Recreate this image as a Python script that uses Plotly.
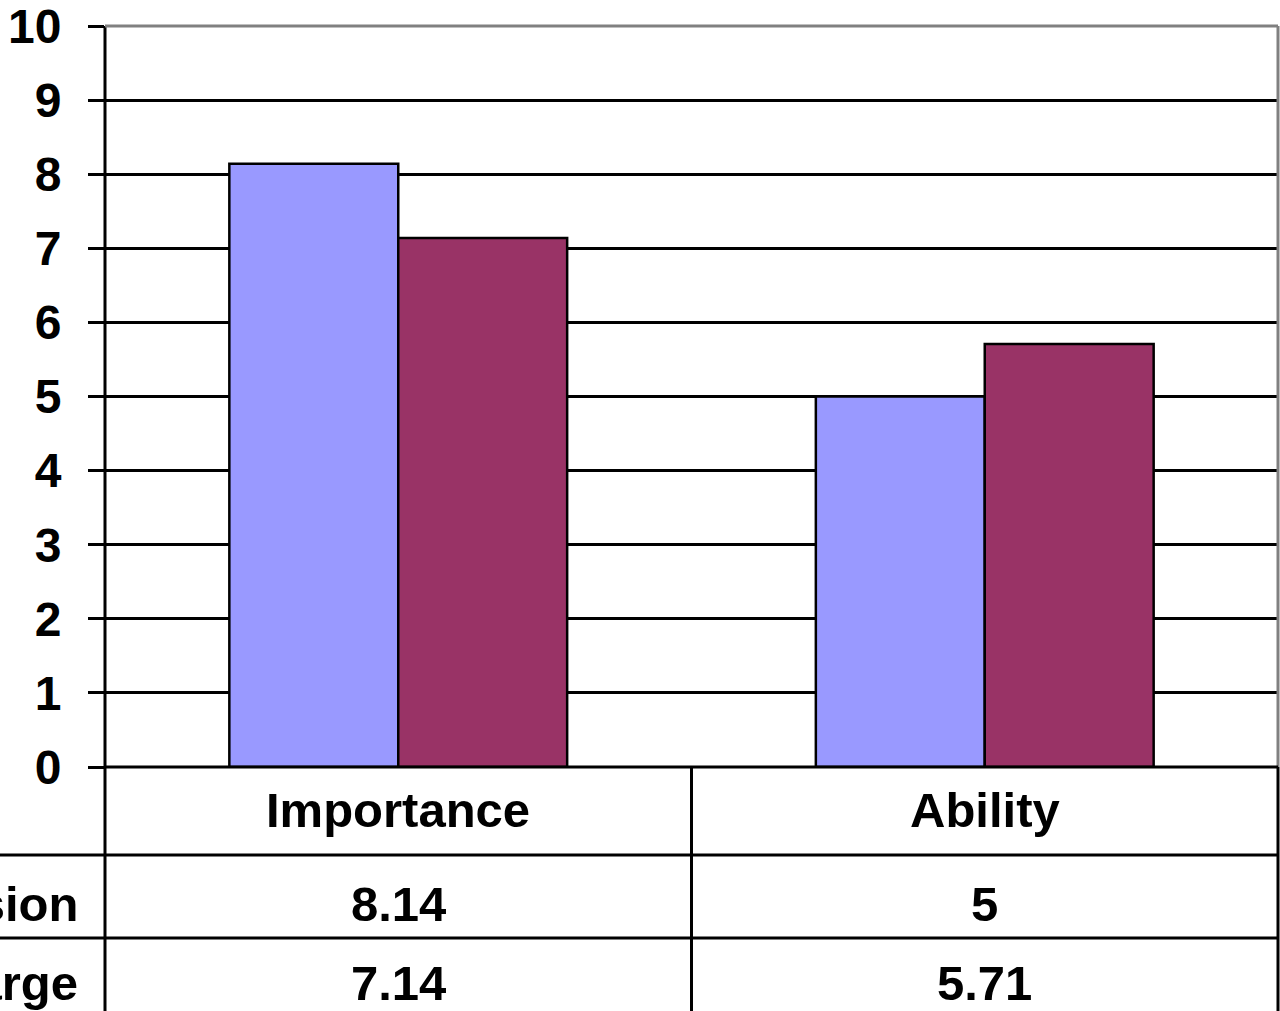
import plotly.graph_objects as go

categories = ["Importance", "Ability"]
series_names = ["Admission", "Discharge"]
admission = [8.14, 5]
discharge = [7.14, 5.71]
y_ticks = list(range(0, 11))
colors = ["#9999FF", "#993366"]

W, H = 1280, 1011
L, R, T, B = 105, 2, 26, 244
plot_h = H - T - B
plot_w = W - L - R
y0_pix = T + plot_h  # pixel of y=0


def py(pix):
    return (y0_pix - pix) / plot_h


def px(pix):
    return (pix - L) / plot_w


FONT = "Liberation Sans, Arial, sans-serif"
FS = 49

fig = go.Figure()
for name, vals, col in zip(series_names, [admission, discharge], colors):
    fig.add_trace(go.Bar(
        x=categories, y=vals, name=name,
        marker=dict(color=col, line=dict(color="black", width=2.5)),
    ))

row_y = [py(904), py(983)]
shapes = []
ann = []
tfont = dict(family=FONT, size=FS, color="black", weight="bold")
# header text
for c in categories:
    ann.append(dict(x=c, y=py(810), xref="x", yref="paper", text=c, showarrow=False,
                    yanchor="middle", font=tfont))
# values and row labels
for ry, name, vals in zip(row_y, series_names, [admission, discharge]):
    ann.append(dict(x=px(80), y=ry, xref="paper", yref="paper", text=name, showarrow=False,
                    xanchor="right", yanchor="middle", font=tfont))
    for c, v in zip(categories, vals):
        ann.append(dict(x=c, y=ry, xref="x", yref="paper", text=f"{v:g}", showarrow=False,
                        yanchor="middle", font=tfont))

lw = 3
bottom = py(H + 20)
# table horizontal lines
for yl in [855, 938]:
    shapes.append(dict(type="line", xref="paper", yref="paper", x0=px(-10), x1=1,
                       y0=py(yl), y1=py(yl), line=dict(color="black", width=lw)))
# vertical lines in table
shapes.append(dict(type="line", xref="paper", yref="paper", x0=0, x1=0, y0=1, y1=bottom,
                   line=dict(color="black", width=lw)))
shapes.append(dict(type="line", xref="x", yref="paper", x0=0.5, x1=0.5, y0=0, y1=bottom,
                   line=dict(color="black", width=lw)))
shapes.append(dict(type="line", xref="paper", yref="paper", x0=1, x1=1, y0=0, y1=bottom,
                   line=dict(color="black", width=lw)))
# plot area border (gray) top and right
shapes.append(dict(type="line", xref="paper", yref="paper", x0=0, x1=1, y0=1, y1=1,
                   line=dict(color="#808080", width=lw)))
shapes.append(dict(type="line", xref="paper", yref="paper", x0=1, x1=1, y0=0, y1=1,
                   line=dict(color="#808080", width=lw)))
# x axis line
shapes.append(dict(type="line", xref="paper", yref="paper", x0=0, x1=1, y0=0, y1=0,
                   line=dict(color="black", width=lw)))

fig.update_layout(
    width=W, height=H,
    margin=dict(l=L, r=R, t=T, b=B, autoexpand=False),
    paper_bgcolor="white", plot_bgcolor="white",
    barmode="group", bargap=0.424, bargroupgap=0,
    showlegend=False,
    shapes=shapes, annotations=ann,
    xaxis=dict(showticklabels=False, showgrid=False, zeroline=False, ticks="",
               range=[-0.5, 1.5]),
    yaxis=dict(range=[0, 10], tickvals=y_ticks, ticktext=[str(t) for t in y_ticks],
               showgrid=True, gridcolor="black", gridwidth=lw, zeroline=False,
               ticks="outside", ticklen=16, tickwidth=lw, tickcolor="black",
               ticklabelstandoff=17, ticklabeloverflow="allow",
               tickfont=dict(family=FONT, size=48, color="black", weight="bold")),
)

fig.write_html("out.html")
